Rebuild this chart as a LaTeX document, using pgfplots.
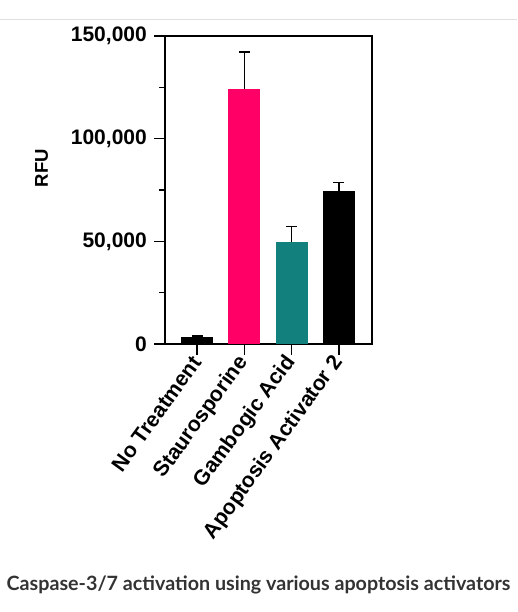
\documentclass[border=0pt]{standalone}
\usepackage{pgfplots}
\pgfplotsset{compat=1.18}
\usepackage{fontspec}
\setmainfont{Liberation Sans}
\newfontfamily\lato{Lato}
\definecolor{pinkbar}{HTML}{FF0066}
\definecolor{tealbar}{HTML}{12807C}
\definecolor{captiongray}{HTML}{333333}
\begin{document}
\begin{tikzpicture}[x=1pt,y=1pt]
\path[use as bounding box] (0,0) rectangle (517,612);
\draw[color=black!12, line width=0.8pt] (0,593) -- (517,593);
\begin{axis}[
  at={(165pt,268pt)}, anchor=south west,
  scale only axis, width=207pt, height=308pt,
  xmin=-0.68, xmax=3.70, ymin=0, ymax=150000,
  axis line style={line width=1.6pt},
  every tick/.style={line width=1.6pt, black},
  tick align=outside,
  major tick length=11pt,
  minor tick length=6pt,
  xtick={0,1,2,3},
  xticklabels={No Treatment,Staurosporine,Gambogic Acid,Apoptosis Activator 2},
  x tick label style={rotate=54, anchor=east, font=\bfseries\fontsize{21.3}{21.3}\selectfont, inner sep=1pt, yshift=-2pt, xshift=-2pt},
  xtick pos=bottom,
  ytick={0,50000,100000,150000},
  yticklabels={0,{50,000},{100,000},{150,000}},
  scaled y ticks=false,
  minor y tick num=1,
  ytick pos=left,
  y tick label style={font=\bfseries\fontsize{21}{21}\selectfont, inner sep=1pt, xshift=-6pt},
  ylabel={RFU},
  every axis y label/.style={at={(-123.5pt,176pt)}, rotate=90, anchor=center, font=\bfseries\fontsize{18.5}{18.5}\selectfont},
  ybar, bar width=32pt,
  error bars/y dir=plus, error bars/y explicit,
  error bars/error bar style={line width=1.6pt, black},
  error bars/error mark options={rotate=90, mark size=5.5pt, line width=1.6pt, black},
  clip=false,
]
\addplot[fill=black, draw=none, bar shift=0pt] coordinates {(0,3400) +- (0,400)};
\addplot[fill=pinkbar, draw=none, bar shift=0pt] coordinates {(1,124200) +- (0,18000)};
\addplot[fill=tealbar, draw=none, bar shift=0pt] coordinates {(2,49500) +- (0,7800)};
\addplot[fill=black, draw=none, bar shift=0pt] coordinates {(3,74400) +- (0,4300)};
\end{axis}
\node[font=\lato\bfseries\fontsize{19.7}{19.7}\selectfont, text=captiongray, anchor=center] at (258.5,27) {Caspase-3/7 activation using various apoptosis activators};
\end{tikzpicture}
\end{document}
